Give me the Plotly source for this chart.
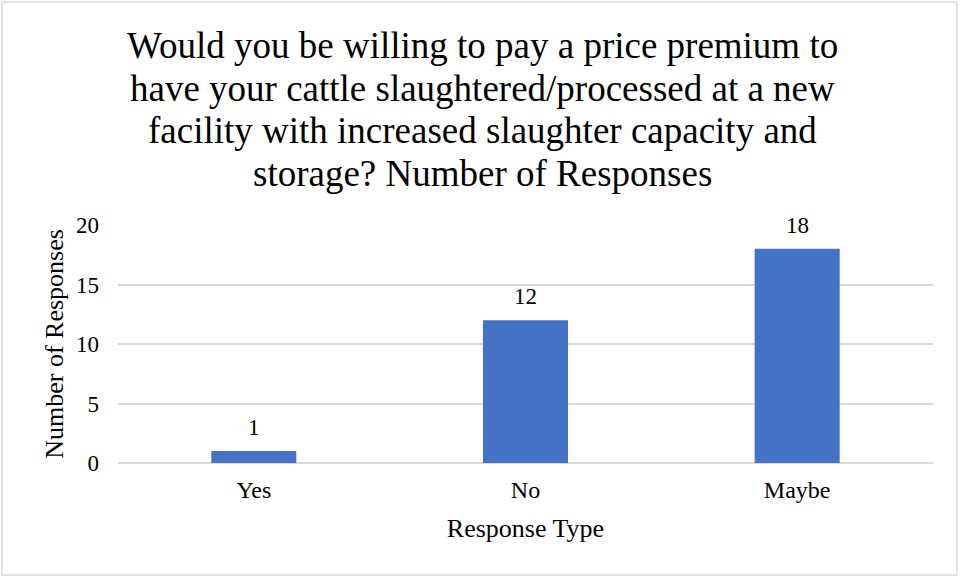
import plotly.graph_objects as go

categories = ["Yes", "No", "Maybe"]
responses = [1, 12, 18]
y_ticks = [0, 5, 10, 15, 20]
title_lines = [
    "Would you be willing to pay a price premium to",
    "have your cattle slaughtered/processed at a new",
    "facility with increased slaughter capacity and",
    "storage? Number of Responses",
]

FONT = "Liberation Serif"

W, H = 960, 577
L, R, T, B = 118, 27, 225, 114
pw, ph = W - L - R, H - T - B

fig = go.Figure(go.Bar(
    x=categories, y=responses,
    marker=dict(color="#4472C4", line=dict(width=0)),
    showlegend=False,
))

annotations = []
# data labels
for c, v in zip(categories, responses):
    annotations.append(dict(
        x=c, y=v, xref="x", yref="y", text=str(v), showarrow=False,
        yanchor="bottom", yshift=9,
        font=dict(family=FONT, size=23, color="#000000"),
    ))
# title lines
title_centers_px = [45, 88, 130, 173]
for line, cy in zip(title_lines, title_centers_px):
    annotations.append(dict(
        x=(482 - L) / pw, y=(H - B - cy) / ph, xref="paper", yref="paper",
        text=line, showarrow=False, xanchor="center", yanchor="middle",
        font=dict(family=FONT, size=37, color="#000000"),
    ))

fig.update_layout(
    width=W, height=H,
    margin=dict(l=L, r=R, t=T, b=B),
    paper_bgcolor="white", plot_bgcolor="white",
    bargap=0.687,
    font=dict(family=FONT, size=23, color="#000000"),
    xaxis=dict(
        title=dict(text="Response Type", font=dict(family=FONT, size=26), standoff=16),
        tickfont=dict(family=FONT, size=24),
        showgrid=False, showline=False, ticks="", ticklabelstandoff=10,
    ),
    yaxis=dict(
        title=dict(text="Number of Responses", font=dict(family=FONT, size=26), standoff=4),
        range=[0, 20], tickvals=y_ticks,
        tickfont=dict(family=FONT, size=23),
        showgrid=True, gridcolor="#D9D9D9", gridwidth=1.5,
        zeroline=True, zerolinecolor="#D9D9D9", zerolinewidth=1.5,
        ticks="", ticklabelstandoff=18,
    ),
    annotations=annotations,
    shapes=[dict(
        type="rect", xref="paper", yref="paper",
        x0=(2 - L) / pw, x1=(957 - L) / pw,
        y0=(H - 575 - B) / ph, y1=(H - 2 - B) / ph,
        line=dict(color="#D9D9D9", width=1.5), fillcolor="rgba(0,0,0,0)",
        layer="below",
    )],
)

fig.write_html(
    "out.html",
    config={"displayModeBar": False},
    post_script="document.body.style.margin='0';document.body.style.overflow='hidden';",
)
